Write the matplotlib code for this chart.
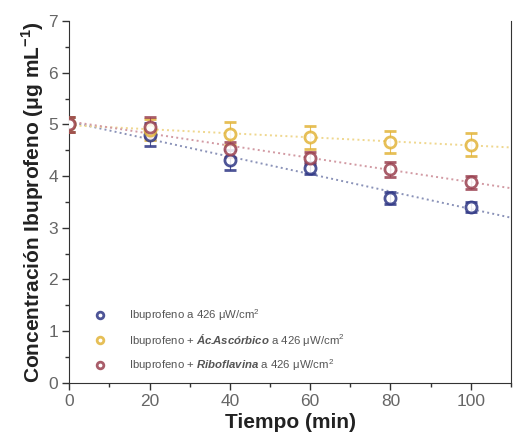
import matplotlib.pyplot as plt
import numpy as np
from matplotlib.ticker import MultipleLocator

plt.rcParams['font.family'] = ['Liberation Sans', 'DejaVu Sans']
plt.rcParams['mathtext.fontset'] = 'custom'
plt.rcParams['mathtext.rm'] = 'Liberation Sans'
plt.rcParams['mathtext.bf'] = 'Liberation Sans:bold'
plt.rcParams['mathtext.bfit'] = 'Liberation Sans:bold:italic'

# Concentration of ibuprofen vs irradiation time
tiempo = [0, 20, 40, 60, 80, 100]
ibu = [5.0, 4.80, 4.31, 4.16, 3.58, 3.40]
ibu_err = [0.15, 0.22, 0.20, 0.12, 0.12, 0.10]
ibu_asc = [5.0, 4.90, 4.82, 4.75, 4.66, 4.61]
ibu_asc_err = [0.15, 0.20, 0.22, 0.22, 0.22, 0.22]
ibu_rib = [5.0, 4.95, 4.52, 4.35, 4.13, 3.88]
ibu_rib_err = [0.15, 0.20, 0.15, 0.12, 0.15, 0.12]

series = [
    (ibu, ibu_err, '#2f3785', '#8a92b8',
     'Ibuprofeno a 426 μW/cm$^2$'),
    (ibu_asc, ibu_asc_err, '#e2b43a', '#efd78e',
     r'Ibuprofeno + $\mathbfit{Ác.\!\!Ascórbico}$ a 426 μW/cm$^2$'),
    (ibu_rib, ibu_rib_err, '#9a4150', '#d29aa3',
     r'Ibuprofeno + $\mathbfit{Riboflavina}$ a 426 μW/cm$^2$'),
]

fig, ax = plt.subplots(figsize=(5.13, 4.40), dpi=100)
fig.subplots_adjust(left=0.135, right=0.996, bottom=0.13, top=0.952)

x_fit = np.linspace(0, 110, 100)
for y, err, color, line_color, label in series:
    k = np.polyfit(tiempo, y, 1)
    ax.plot(x_fit, np.polyval(k, x_fit), ls=':', lw=1.4, color=line_color, zorder=1)
    ax.errorbar(tiempo, y, yerr=err, fmt='o', ms=8, mfc='white', mec=color, mew=2.0,
                ecolor=color, elinewidth=0.8, capsize=4, capthick=0.8, alpha=0.85,
                label=label, zorder=3)

ax.set_xlim(0, 110)
ax.set_ylim(0, 7)
ax.xaxis.set_major_locator(MultipleLocator(20))
ax.xaxis.set_minor_locator(MultipleLocator(10))
ax.yaxis.set_major_locator(MultipleLocator(1))
ax.yaxis.set_minor_locator(MultipleLocator(0.5))
ax.tick_params(which='major', direction='out', length=5, width=1, labelsize=12.5,
               colors='#333333', labelcolor='#666666', pad=3)
ax.tick_params(which='minor', direction='out', length=3, width=1, colors='#333333')
ax.spines['top'].set_visible(False)
for s in ['left', 'bottom', 'right']:
    ax.spines[s].set_color('#333333')

ax.set_xlabel('Tiempo (min)', fontsize=15, fontweight='bold', color='#222222', labelpad=3)
ax.set_ylabel('Concentración Ibuprofeno (μg mL$^{\\mathbf{-1}}$)', fontsize=15,
              fontweight='bold', color='#222222', labelpad=2)

handles, labels = ax.get_legend_handles_labels()
handles = [h[0] for h in handles]
leg = ax.legend(handles, labels, loc='lower left', bbox_to_anchor=(0.02, 0.0),
                frameon=False, fontsize=8.2, markerscale=0.6, handletextpad=1.6,
                labelspacing=0.8, labelcolor='#555555')

plt.savefig('out.png')
